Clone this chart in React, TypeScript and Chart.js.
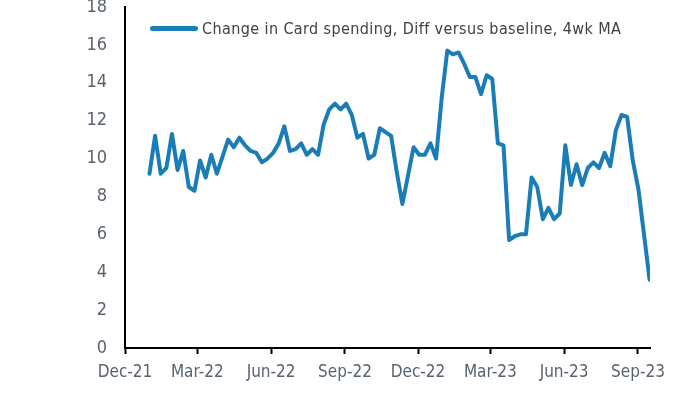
import React, { useEffect, useRef } from "react";
import { Chart, registerables } from "chart.js";

Chart.register(...registerables);

// Weekly observations, first one ~31 days after 1 Dec 2021
const FIRST_DAY = 30.5;
const WEEK = 7;

const values: number[] = [
  9.2, 11.2, 9.2, 9.5, 11.3, 9.4, 10.4, 8.5, 8.3, 9.9,
  9.0, 10.2, 9.2, 10.1, 11.0, 10.6, 11.1, 10.7, 10.4, 10.3,
  9.8, 10.0, 10.3, 10.8, 11.7, 10.4, 10.5, 10.8, 10.2, 10.5,
  10.2, 11.8, 12.6, 12.9, 12.6, 12.9, 12.3, 11.1, 11.3, 10.0,
  10.2, 11.6, 11.4, 11.2, 9.3, 7.6, 9.1, 10.6, 10.2, 10.2,
  10.8, 10.0, 13.2, 15.7, 15.5, 15.6, 15.0, 14.3, 14.3, 13.4,
  14.4, 14.2, 10.8, 10.7, 5.7, 5.9, 6.0, 6.0, 9.0, 8.5,
  6.8, 7.4, 6.8, 7.1, 10.7, 8.6, 9.7, 8.6, 9.5, 9.8,
  9.5, 10.3, 9.6, 11.5, 12.3, 12.2, 9.9, 8.4, 6.0, 3.6,
];

// x tick positions: days since 1 Dec 2021 at each quarter start
const tickDays: number[] = [0, 90, 182, 274, 365, 455, 547, 639];
const tickLabels: string[] = ["Dec-21", "Mar-22", "Jun-22", "Sep-22", "Dec-22", "Mar-23", "Jun-23", "Sep-23"];
const X_MAX = 654;

const Y_MIN = 0;
const Y_MAX = 18;
const Y_STEP = 2;

const seriesLabel = "Change in Card spending, Diff versus baseline, 4wk MA";
const LINE_COLOR = "#1b7db8";
const LABEL_COLOR = "#58636e";
const FONT_FAMILY = "'DejaVu Sans Condensed', 'Liberation Sans', sans-serif";

export default function App() {
  const canvasRef = useRef<HTMLCanvasElement | null>(null);

  useEffect(() => {
    const canvas = canvasRef.current;
    if (!canvas) return;
    const points = values.map((v, i) => ({ x: FIRST_DAY + WEEK * i, y: v }));
    const chart = new Chart(canvas, {
      type: "line",
      data: {
        datasets: [
          {
            label: seriesLabel,
            data: points,
            borderColor: LINE_COLOR,
            borderWidth: 4,
            pointRadius: 0,
            tension: 0,
            fill: false,
            borderJoinStyle: "round",
            borderCapStyle: "round",
          },
        ],
      },
      options: {
        animation: false,
        responsive: false,
        maintainAspectRatio: false,
        layout: { padding: { top: 7, right: 50, left: 0, bottom: 0 } },
        plugins: { legend: { display: false }, tooltip: { enabled: false } },
        scales: {
          x: {
            type: "linear",
            min: 0,
            max: X_MAX,
            afterBuildTicks: (scale: any) => {
              scale.ticks = tickDays.map((v) => ({ value: v }));
            },
            ticks: {
              autoSkip: false,
              maxRotation: 0,
              minRotation: 0,
              color: LABEL_COLOR,
              font: { family: FONT_FAMILY, size: 17 },
              padding: 8,
              callback: (v: any) => {
                const idx = tickDays.indexOf(Number(v));
                return idx >= 0 ? tickLabels[idx] : "";
              },
            },
            grid: {
              display: true,
              drawOnChartArea: false,
              drawTicks: true,
              tickLength: 6,
              tickColor: "#000",
              tickWidth: 2,
            },
            border: { display: true, color: "#000", width: 2 },
            afterFit: (scale: any) => {
              scale.height = 46;
              scale.paddingLeft = 0;
              scale.paddingRight = 0;
            },
          },
          y: {
            min: Y_MIN,
            max: Y_MAX,
            ticks: {
              stepSize: Y_STEP,
              color: LABEL_COLOR,
              font: { family: FONT_FAMILY, size: 18 },
              padding: 18,
            },
            grid: { display: false, drawTicks: false },
            border: { display: true, color: "#000", width: 2 },
            afterFit: (scale: any) => {
              scale.width = 125;
              scale.paddingTop = 0;
              scale.paddingBottom = 0;
            },
          },
        },
      },
    });
    return () => chart.destroy();
  }, []);

  return (
    <div style={{ position: "fixed", left: 0, top: 0, width: 700, height: 394, background: "#fff" }}>
      <canvas ref={canvasRef} width={700} height={394} style={{ width: 700, height: 394, display: "block" }} />
      <div
        style={{
          position: "absolute",
          left: 150,
          top: 18,
          height: 20,
          display: "flex",
          alignItems: "center",
          fontFamily: FONT_FAMILY,
          fontSize: 16,
          color: "#404040",
          whiteSpace: "nowrap",
        }}
      >
        <span style={{ display: "inline-block", width: 48, height: 5, borderRadius: 3, background: LINE_COLOR, marginRight: 4 }} />
        <span style={{ letterSpacing: 0.4 }}>{seriesLabel}</span>
      </div>
    </div>
  );
}
